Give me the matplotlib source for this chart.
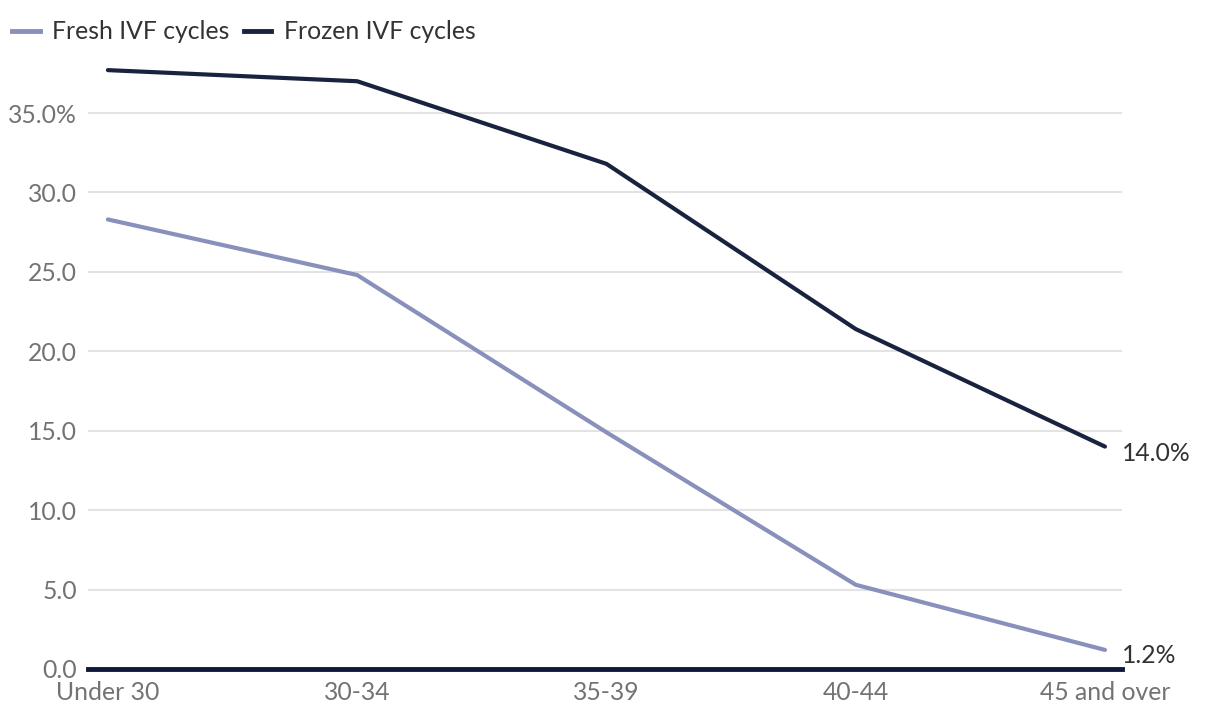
import matplotlib
matplotlib.use("Agg")
import matplotlib.pyplot as plt
from matplotlib.lines import Line2D

plt.rcParams['font.family'] = ['Lato', 'DejaVu Sans']

categories = ["Under 30", "30-34", "35-39", "40-44", "45 and over"]
fresh = [28.3, 24.8, 14.9, 5.3, 1.2]
frozen = [37.7, 37.0, 31.8, 21.4, 14.0]
yticks = [0, 5, 10, 15, 20, 25, 30, 35]
ytick_labels = ["0.0", "5.0", "10.0", "15.0", "20.0", "25.0", "30.0", "35.0%"]

fresh_color = "#8890bb"
frozen_color = "#19223f"
FS = 17.8

fig = plt.figure(figsize=(12.2, 7.24), dpi=100)
ax = fig.add_axes([0.0721, 0.076, 0.8475, 0.8447])

x = list(range(len(categories)))
ax.plot(x, fresh, color=fresh_color, lw=3, solid_capstyle='round', zorder=3)
ax.plot(x, frozen, color=frozen_color, lw=3, solid_capstyle='round', zorder=3)

ax.set_xlim(-0.08, 4.068)
ax.set_ylim(0, 38.5)
ax.set_yticks(yticks)
ax.set_yticklabels(ytick_labels)
ax.set_xticks(x)
ax.set_xticklabels(categories)

for y in yticks[1:]:
    ax.axhline(y, color="#e3e3e3", lw=1.5, zorder=1)
ax.axhline(0, color="#0f1838", lw=3.5, zorder=4, clip_on=False)

for s in ax.spines.values():
    s.set_visible(False)
ax.tick_params(axis='both', length=0, labelsize=FS, labelcolor="#737373")
ax.tick_params(axis='y', pad=8)
ax.tick_params(axis='x', pad=9)

ax.annotate(f"{frozen[-1]:.1f}%", xy=(x[-1], frozen[-1]), xytext=(12, -5),
            textcoords='offset points', fontsize=FS, color="#333333",
            ha='left', va='center', annotation_clip=False)
ax.annotate(f"{fresh[-1]:.1f}%", xy=(x[-1], fresh[-1]), xytext=(12, -4),
            textcoords='offset points', fontsize=FS, color="#333333",
            ha='left', va='center', annotation_clip=False)

handles = [Line2D([], [], color=fresh_color, lw=3.5),
           Line2D([], [], color=frozen_color, lw=3.5)]
fig.legend(handles, ["Fresh IVF cycles", "Frozen IVF cycles"], loc='upper left',
           bbox_to_anchor=(-0.004, 0.996), ncol=2, frameon=False, fontsize=FS,
           handlelength=1.1, handletextpad=0.5, columnspacing=0.6,
           labelcolor="#333333", borderaxespad=0.3)

fig.savefig("out.png", dpi=100)
